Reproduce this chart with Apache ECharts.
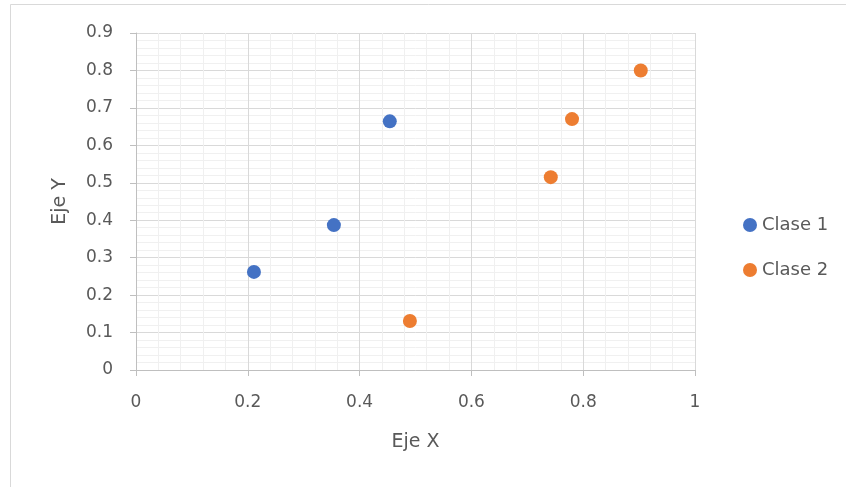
<!DOCTYPE html>
<html>
<head>
<meta charset="utf-8">
<script src="https://cdn.jsdelivr.net/npm/echarts@6/dist/echarts.min.js"></script>
<style>html,body{margin:0;padding:0;background:#fff;}#c{width:846px;height:487px;}</style>
</head>
<body>
<div id="c"></div>
<script>
const seriesNames = ['Clase 1', 'Clase 2'];
const clase1 = [[0.211, 0.262], [0.354, 0.387], [0.454, 0.664]];
const clase2 = [[0.490, 0.131], [0.742, 0.515], [0.780, 0.670], [0.903, 0.800]];
const xTitle = 'Eje X';
const yTitle = 'Eje Y';

const font = '"DejaVu Sans", sans-serif';
const txt = '#595959';
const chart = echarts.init(document.getElementById('c'));
const minorGrid = { show: true, lineStyle: { color: '#f0f0f0', width: 1 } };
chart.setOption({
  animation: false,
  backgroundColor: '#fff',
  graphic: [{
    type: 'rect', shape: { x: 10.5, y: 4.5, width: 900, height: 900 },
    style: { fill: 'none', stroke: '#d9d9d9', lineWidth: 1 }, silent: true
  }],
  grid: { left: 136, right: 151, top: 33, bottom: 117, containLabel: false },
  legend: {
    orient: 'vertical', left: 738, top: 211,
    itemWidth: 14, itemHeight: 14, itemGap: 27,
    icon: 'circle',
    textStyle: { color: txt, fontSize: 18, fontFamily: font },
    data: seriesNames
  },
  xAxis: {
    type: 'value', min: 0, max: 1, interval: 0.2,
    name: xTitle, nameLocation: 'middle', nameGap: 63,
    nameTextStyle: { color: txt, fontSize: 19, fontFamily: font },
    axisLine: { show: true, lineStyle: { color: '#bfbfbf', width: 1 } },
    axisTick: { show: true, length: 6, lineStyle: { color: '#bfbfbf' } },
    axisLabel: { color: txt, fontSize: 17, fontFamily: font, margin: 24,
      formatter: v => (Math.round(v * 10) / 10).toString() },
    splitLine: { show: true, lineStyle: { color: '#d9d9d9', width: 1 } },
    minorTick: { show: false, splitNumber: 5 },
    minorSplitLine: minorGrid
  },
  yAxis: {
    type: 'value', min: 0, max: 0.9, interval: 0.1,
    name: yTitle, nameLocation: 'middle', nameGap: 66,
    nameTextStyle: { color: txt, fontSize: 19, fontFamily: font },
    axisLine: { show: true, lineStyle: { color: '#bfbfbf', width: 1 } },
    axisTick: { show: true, length: 6, lineStyle: { color: '#bfbfbf' } },
    axisLabel: { color: txt, fontSize: 17, fontFamily: font, margin: 23,
      formatter: v => (Math.round(v * 10) / 10).toString() },
    splitLine: { show: true, lineStyle: { color: '#d9d9d9', width: 1 } },
    minorTick: { show: false, splitNumber: 5 },
    minorSplitLine: minorGrid
  },
  series: [
    { name: seriesNames[0], type: 'scatter', data: clase1, symbolSize: 14,
      itemStyle: { color: '#4472C4', opacity: 1 } },
    { name: seriesNames[1], type: 'scatter', data: clase2, symbolSize: 14,
      itemStyle: { color: '#ED7D31', opacity: 1 } }
  ]
});
</script>
</body>
</html>
